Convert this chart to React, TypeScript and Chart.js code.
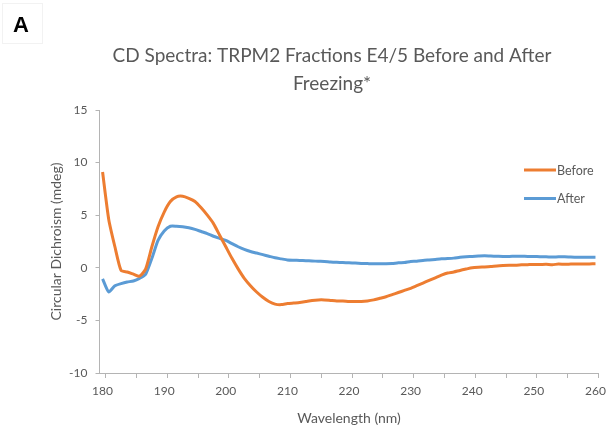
import { useEffect, useRef } from "react";
import { Chart, registerables } from "chart.js";

Chart.register(...registerables);

const PANEL_LABEL = "A";
const TITLE_LINES = ["CD Spectra: TRPM2 Fractions E4/5 Before and After", "Freezing*"];
const X_TITLE = "Wavelength (nm)";
const Y_TITLE = "Circular Dichroism (mdeg)";
const SERIES_NAMES = ["Before", "After"];
const SERIES_COLORS = ["#ED7D31", "#5B9BD5"];

// category-style axis: each wavelength occupies a 1 nm slot
const X_MIN = 179.5;
const X_MAX = 260.5;
const X_TICK_MARKS = [
  180.5, 185.5, 190.5, 195.5, 200.5, 205.5, 210.5, 215.5, 220.5,
  225.5, 230.5, 235.5, 240.5, 245.5, 250.5, 255.5, 260.5,
];
const X_TICK_LABELS = ["180", "", "190", "", "200", "", "210", "", "220", "", "230", "", "240", "", "250", "", "260"];
const Y_MIN = -10;
const Y_MAX = 15;
const Y_TICK_STEP = 5;

const WAVELENGTH = [
  180, 181, 182, 183, 184, 185, 186, 187, 188, 189,
  190, 191, 192, 193, 194, 195, 196, 197, 198, 199,
  200, 201, 202, 203, 204, 205, 206, 207, 208, 209,
  210, 211, 212, 213, 214, 215, 216, 217, 218, 219,
  220, 221, 222, 223, 224, 225, 226, 227, 228, 229,
  230, 231, 232, 233, 234, 235, 236, 237, 238, 239,
  240, 241, 242, 243, 244, 245, 246, 247, 248, 249,
  250, 251, 252, 253, 254, 255, 256, 257, 258, 259,
  260,
];

const BEFORE = [
  9.1, 4.6, 2.0, -0.25, -0.4, -0.6, -0.8, -0.1, 2.0, 3.9,
  5.3, 6.3, 6.75, 6.8, 6.6, 6.3, 5.7, 5.0, 4.2, 3.1,
  2.0, 0.9, -0.1, -1.0, -1.7, -2.3, -2.8, -3.2, -3.45, -3.5,
  -3.4, -3.35, -3.3, -3.2, -3.1, -3.05, -3.05, -3.1, -3.15, -3.15,
  -3.2, -3.2, -3.2, -3.15, -3.05, -2.9, -2.75, -2.55, -2.35, -2.15,
  -1.95, -1.7, -1.45, -1.2, -0.95, -0.7, -0.5, -0.4, -0.25, -0.12,
  0.0, 0.05, 0.08, 0.12, 0.18, 0.22, 0.25, 0.25, 0.28, 0.3,
  0.32, 0.32, 0.33, 0.3, 0.35, 0.33, 0.35, 0.36, 0.35, 0.37,
  0.38,
];

const AFTER = [
  -1.05, -2.3, -1.7, -1.5, -1.35, -1.25, -1.0, -0.6, 0.9, 2.6,
  3.5, 3.95, 3.95, 3.9, 3.8, 3.65, 3.45, 3.25, 3.0, 2.8,
  2.6, 2.3, 2.0, 1.75, 1.55, 1.4, 1.25, 1.1, 0.95, 0.85,
  0.75, 0.72, 0.7, 0.68, 0.65, 0.62, 0.6, 0.55, 0.52, 0.5,
  0.48, 0.45, 0.42, 0.4, 0.38, 0.38, 0.38, 0.4, 0.48, 0.5,
  0.6, 0.62, 0.7, 0.75, 0.8, 0.85, 0.88, 0.92, 1.0, 1.05,
  1.08, 1.12, 1.15, 1.12, 1.1, 1.08, 1.08, 1.1, 1.1, 1.08,
  1.08, 1.05, 1.05, 1.02, 1.05, 1.05, 1.02, 1.0, 1.0, 1.0,
  1.0,
];

const FONT = "Lato, 'Open Sans', sans-serif";
const TEXT_COLOR = "#595959";
const AXIS_COLOR = "#b4b4b4";

const decorations = {
  id: "decorations",
  beforeDraw(chart: any) {
    const ctx = chart.ctx;
    ctx.save();
    ctx.fillStyle = "#ffffff";
    ctx.fillRect(0, 0, chart.width, chart.height);
    ctx.restore();
  },
  afterDraw(chart: any) {
    const ctx = chart.ctx;
    ctx.save();
    // faint box around panel label
    ctx.strokeStyle = "#f2f2f2";
    ctx.lineWidth = 1;
    ctx.strokeRect(2.5, 3.5, 40, 40);
    // panel label
    ctx.fillStyle = "#000000";
    ctx.font = "bold 22px 'Liberation Sans', Arial, sans-serif";
    ctx.textAlign = "center";
    ctx.textBaseline = "middle";
    ctx.fillText(PANEL_LABEL, 21, 26);
    // title
    ctx.fillStyle = TEXT_COLOR;
    ctx.font = `19px ${FONT}`;
    ctx.textAlign = "center";
    TITLE_LINES.forEach((line, i) => ctx.fillText(line, 332, 56 + i * 28));
    // legend
    ctx.font = `12.5px ${FONT}`;
    ctx.textAlign = "left";
    chart.data.datasets.forEach((ds: any, i: number) => {
      const y = 170 + i * 28.5;
      ctx.strokeStyle = ds.borderColor;
      ctx.lineWidth = 3;
      ctx.beginPath();
      ctx.moveTo(524, y);
      ctx.lineTo(556, y);
      ctx.stroke();
      ctx.fillStyle = TEXT_COLOR;
      ctx.fillText(ds.label, 557, y + 0.5);
    });
    ctx.restore();
  },
};

export default function App() {
  const ref = useRef<HTMLCanvasElement | null>(null);

  useEffect(() => {
    if (!ref.current) return;
    const chart = new Chart(ref.current, {
      type: "line",
      data: {
        datasets: [
          {
            label: SERIES_NAMES[0],
            data: WAVELENGTH.map((x, i) => ({ x, y: BEFORE[i] })),
            borderColor: SERIES_COLORS[0],
            backgroundColor: SERIES_COLORS[0],
            borderWidth: 3,
            pointRadius: 0,
            tension: 0.2,
          },
          {
            label: SERIES_NAMES[1],
            data: WAVELENGTH.map((x, i) => ({ x, y: AFTER[i] })),
            borderColor: SERIES_COLORS[1],
            backgroundColor: SERIES_COLORS[1],
            borderWidth: 3,
            pointRadius: 0,
            tension: 0.2,
          },
        ],
      },
      options: {
        responsive: false,
        animation: false,
        layout: { padding: { top: 110, right: 9, bottom: 0, left: 0 } },
        plugins: {
          legend: { display: false },
          title: { display: false },
          tooltip: { enabled: false },
        },
        scales: {
          x: {
            type: "linear",
            min: X_MIN,
            max: X_MAX,
            border: { color: AXIS_COLOR, width: 1 },
            grid: { drawOnChartArea: false, color: AXIS_COLOR, tickLength: 5 },
            afterBuildTicks: (scale: any) => {
              scale.ticks = X_TICK_MARKS.map((value) => ({ value }));
            },
            ticks: {
              autoSkip: false,
              maxRotation: 0,
              minRotation: 0,
              color: TEXT_COLOR,
              font: { family: FONT, size: 12 },
              padding: 6,
              labelOffset: -3.1,
              callback: (_v: any, i: number) => X_TICK_LABELS[i],
            },
            title: {
              display: true,
              text: X_TITLE,
              color: TEXT_COLOR,
              font: { family: FONT, size: 14 },
              padding: { top: 0, bottom: 5 },
            },
            afterFit: (scale: any) => {
              scale.height = 59;
            },
          },
          y: {
            min: Y_MIN,
            max: Y_MAX,
            border: { color: AXIS_COLOR, width: 1 },
            grid: { drawOnChartArea: false, color: AXIS_COLOR, tickLength: 4 },
            ticks: {
              stepSize: Y_TICK_STEP,
              color: TEXT_COLOR,
              font: { family: FONT, size: 12 },
              padding: 8,
            },
            title: {
              display: true,
              text: Y_TITLE,
              color: TEXT_COLOR,
              font: { family: FONT, size: 14 },
              padding: { top: 48, bottom: 0 },
            },
            afterFit: (scale: any) => {
              scale.width = 99.5;
            },
          },
        },
      },
      plugins: [decorations],
    });
    return () => chart.destroy();
  }, []);

  return (
    <div style={{ position: "fixed", left: 0, top: 0, width: 615, height: 432, background: "#fff" }}>
      <canvas ref={ref} width={615} height={432} />
    </div>
  );
}
